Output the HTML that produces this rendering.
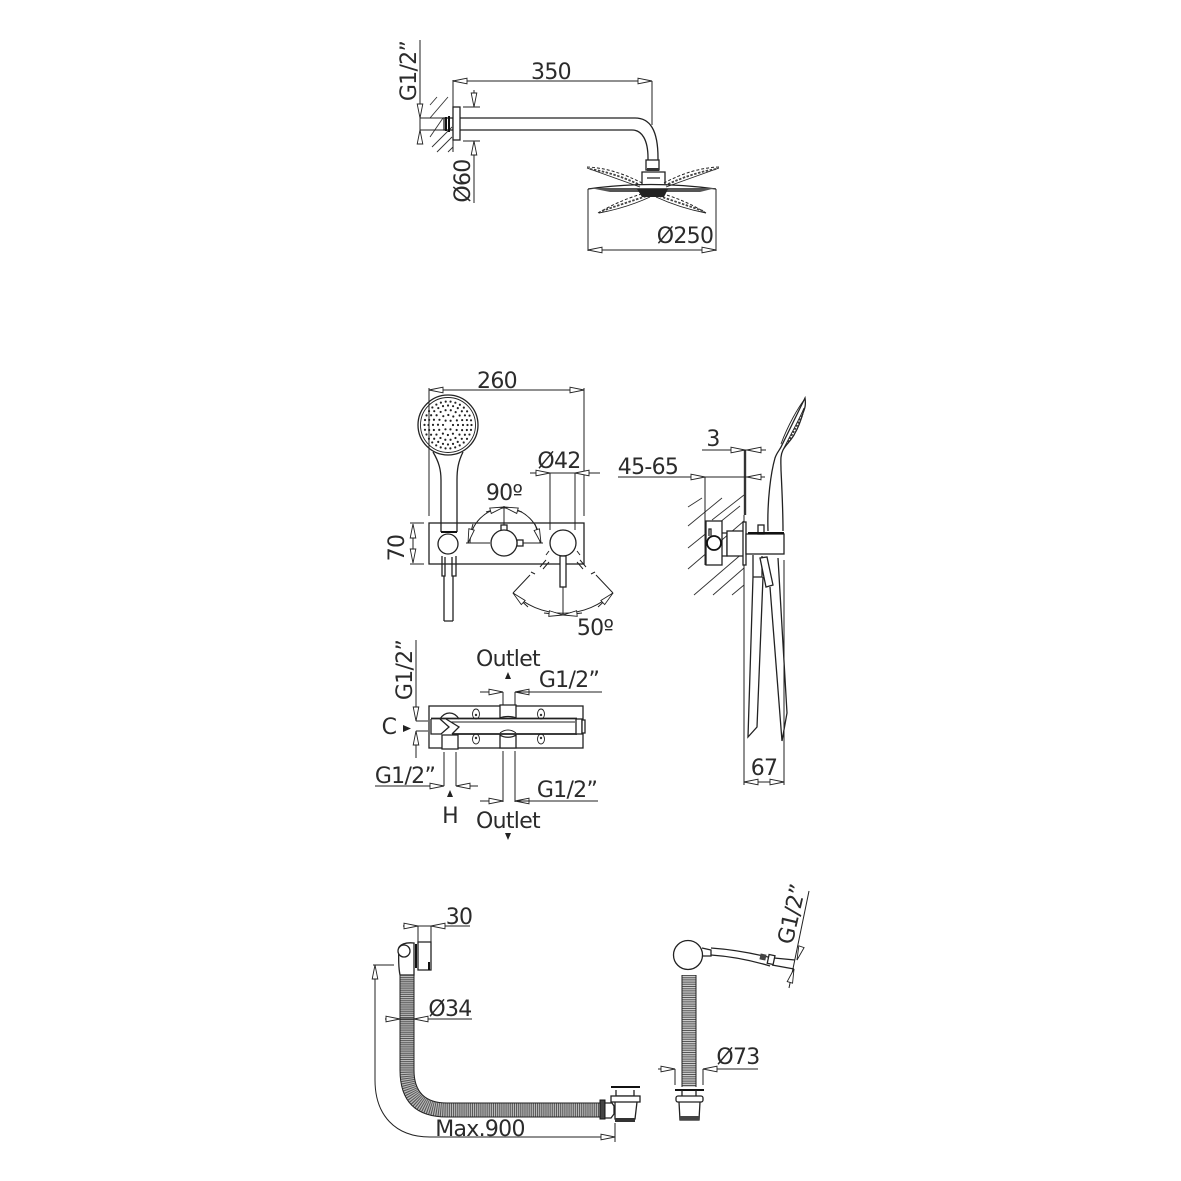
<!DOCTYPE html>
<html>
<head>
<meta charset="utf-8">
<style>
html,body{margin:0;padding:0;background:#fff}
svg{display:block}
text{font-family:"DejaVu Sans","Liberation Sans",sans-serif;font-size:22px;letter-spacing:-.7px;fill:#2b2b2b;text-anchor:middle}
.l{fill:none;stroke:#222;stroke-width:1.3}
.t{fill:none;stroke:#222;stroke-width:.9}
.h{fill:none;stroke:#333;stroke-width:.9}
.k{fill:none;stroke:#111;stroke-width:2}
.w{fill:#fff;stroke:#222;stroke-width:1.3}
.d{fill:none;stroke:#222;stroke-width:1}
.a{fill:none;stroke:#222;stroke-width:1;marker-end:url(#m);marker-start:url(#m)}
.e{fill:none;stroke:#222;stroke-width:1;marker-end:url(#m)}
.dash{fill:none;stroke:#222;stroke-width:1;stroke-dasharray:3 2}
.b{fill:none;stroke:#444;stroke-width:1.800;stroke-dasharray:2.500 1.500}
.dot{fill:#222}
</style>
</head>
<body>
<svg width="1181" height="1181" viewBox="0 0 1181 1181" xmlns="http://www.w3.org/2000/svg">
<defs>
<marker id="m" markerUnits="userSpaceOnUse" markerWidth="18" markerHeight="8" refX="15" refY="4" orient="auto-start-reverse">
<path d="M1 1.2 L15 4 L1 6.800 Z" fill="#fff" stroke="#222" stroke-width=".9"/>
</marker>
</defs>

<!-- TOP: shower arm -->
<path class="h" d="M430 105L437 97M430 118L448 97M430 137L443 118M432 147L452 127M437 152L452 137M448 152L453 147"/>
<path class="d" d="M453 80V152"/>
<path class="a" d="M453 81H652"/>
<path class="d" d="M652 81V125"/>
<text x="551" y="79">350</text>
<path class="d" d="M420 40V143M420 118H445M420 130H445"/>
<path class="e" d="M420 104V118"/>
<path class="e" d="M420 143V130"/>
<text transform="translate(416 71) rotate(-90)">G1/2”</text>
<rect class="l" x="444" y="118" width="9" height="12"/>
<path class="k" d="M446 117V131M449 116V132"/>
<rect class="w" x="453" y="107" width="7" height="33"/>
<path class="l" d="M460 118H635C650 118 658 130 658 158V160M460 130H632C642 130 648 140 648 158V160"/>
<path class="d" d="M463 107H480M463 141H480M474 90V107M474 141V203"/>
<path class="e" d="M474 93V107"/>
<path class="e" d="M474 155V141"/>
<text transform="translate(470 181) rotate(-90)">Ø60</text>
<!-- head -->
<rect class="w" x="646" y="160" width="13" height="10"/>
<path class="l" d="M642 184V172H665V184M647 178H660"/>
<rect x="647" y="168" width="12" height="3" fill="#333"/>
<path class="dash" d="M587 167Q613 168 642 183M719 167Q692 168 664 183M598 213Q620 200 645 193M706 213Q685 200 660 193"/>
<path class="t" d="M587 168Q612 177 640 187M719 168Q694 177 666 187M599 213Q626 208 650 197M706 213Q680 208 656 197"/>
<path class="b" d="M590 169Q615 173 640 185M716 169Q692 173 666 185M602 211Q625 203 650 195M703 211Q680 203 656 195"/>
<path class="l" d="M588 189Q650 180 716 189"/>
<path d="M590 188H716L700 192H610Z" fill="#555"/>
<path d="M637 189H668L664 197H642Z" fill="#222"/>
<path class="d" d="M588 189V251M716 189V251"/>
<path class="a" d="M588 250H716"/>
<text x="685" y="243">Ø250</text>

<!-- MIDDLE: front -->
<path class="a" d="M429 390H584"/>
<path class="d" d="M429 388V516M584 388V516"/>
<text x="497" y="388">260</text>
<rect class="l" x="429" y="523" width="155" height="41"/>
<!-- hand shower head -->
<circle class="l" cx="448" cy="425" r="30"/>
<circle class="t" cx="448" cy="425" r="27.500"/>
<g fill="none" stroke="#222" stroke-width="2.200" stroke-linecap="round">
<circle cx="448" cy="425" r="5" stroke-dasharray="0 5.230"/>
<circle cx="448" cy="425" r="10" stroke-dasharray="0 5.240"/>
<circle cx="448" cy="425" r="15" stroke-dasharray="0 5.240"/>
<circle cx="448" cy="425" r="19.500" stroke-dasharray="0 5.100"/>
<circle cx="448" cy="425" r="23.500" stroke-dasharray="0 4.920"/>
</g>
<path class="l" d="M433 452C439 462 441 470 441 480V532M463 452C458 462 457 470 457 480V532"/>
<path class="k" d="M441 532H457"/>
<circle class="w" cx="448" cy="544" r="10"/>
<path class="l" d="M442 556V576H445V557M456 556V576H452V557M444 576V621M453 576V621M444 621H453"/>
<!-- temp valve -->
<path class="d" d="M470 543A35 35 0 0 1 540 543M466 543H490M518 543H543M504 506V531"/>
<path class="e" d="M473 524L468 543"/>
<path class="e" d="M486 512L504 507"/>
<path class="e" d="M522 512L504 507"/>
<path class="e" d="M535 524L541 543"/>
<rect class="w" x="501" y="525" width="6" height="6"/>
<rect class="w" x="517" y="540" width="6" height="6"/>
<circle class="w" cx="504" cy="543" r="13"/>
<text x="504" y="500">90º</text>
<!-- lever valve -->
<path class="d" d="M550 473V530M575 473V530"/>
<path class="d" d="M530 473H600"/>
<path class="e" d="M530 473H550"/>
<path class="e" d="M600 473H575"/>
<text x="559" y="468">Ø42</text>
<circle class="w" cx="563" cy="543" r="13"/>
<rect class="w" x="560" y="556" width="6" height="31"/>
<path class="d" d="M549 551L546 555M577 551L580 555M540 567L546 560M543 569L549 562M586 567L580 560M583 569L577 562M531 572L535 574M595 572L591 574M530 575L513 593M596 575L613 593M563 587V615"/>
<path class="d" d="M513 593A72 72 0 0 0 613 593"/>
<path class="e" d="M528 607L513 593"/>
<path class="e" d="M544 613L563 615"/>
<path class="e" d="M582 613L563 615"/>
<path class="e" d="M598 607L613 593"/>
<text x="595" y="635">50º</text>
<path class="d" d="M410 523H424M410 564H424"/>
<path class="a" d="M413 524V563"/>
<text transform="translate(404 548) rotate(-90)">70</text>

<!-- MIDDLE: side -->
<path class="h" d="M688 507L702 498M688 526L722 498M688 548L740 506M712 520L744 495M688 569L744 521M694 595L744 552M713 595L744 568M732 595L744 585"/>
<path d="M745 450V515" stroke="#333" stroke-width="2.400" fill="none"/>
<path class="d" d="M618 477H765M702 450H766M705 477V565M744 515V785M784 560V785"/>
<path class="e" d="M726 450H745"/>
<path class="e" d="M765 450H747"/>
<path class="e" d="M686 477H705"/>
<path class="e" d="M765 477H747"/>
<text x="713" y="446">3</text>
<text x="648" y="474">45-65</text>
<rect class="w" x="706" y="521" width="16" height="44"/>
<circle cx="714" cy="543" r="7" fill="#fff" stroke="#111" stroke-width="1.800"/>
<path class="l" d="M709 536V529H711V536M722 533H727V556H722"/>
<rect class="w" x="727" y="531" width="17" height="25"/>
<rect class="w" x="743" y="522" width="3" height="43"/>
<rect class="w" x="746" y="534" width="38" height="20"/>
<rect class="w" x="758" y="525" width="6" height="9"/>
<path class="k" d="M748 533H784"/>
<path class="l" d="M768 531C767 500 771 472 775 458C777 452 780 450 782 445L805 398C806 405 805 408 803 413C801 420 798 428 795 433C792 440 786 444 783 450C780 456 781 462 781 470C782 490 783 510 783 531"/>
<path class="t" d="M781 444C788 425 798 408 804 400M784 448C792 432 800 418 804 408"/>
<path d="M788 442L803 414" stroke="#333" stroke-width="1.800" stroke-dasharray="2 1.500" fill="none"/>
<path class="l" d="M753 555V577H762V556M753 577L748 737L757 727L763 577"/>
<path class="w" d="M760 558L767 557L773 585L766 587Z"/>
<path class="l" d="M770 587L782 741L787 713L778 558"/>

<text x="764" y="775">67</text>
<path class="a" d="M744 782H784"/>

<!-- LOWER VALVE -->
<rect class="l" x="429" y="706" width="154" height="42"/>
<path d="M431 718.500H577M452 734H577" fill="none" stroke="#222" stroke-width="1.700"/>
<path class="l" d="M431 719V734H441L449 727L440 719M446 719L459 727L452 734"/>
<path class="t" d="M451 722H575"/>
<rect class="w" x="576" y="719" width="6" height="15"/>
<rect class="w" x="582" y="720" width="3" height="13"/>
<path class="w" d="M442 735V749H458V735Z"/>
<path class="l" d="M440 719C445 711 454 711 459 719"/>
<path class="w" d="M500 705H516V718C512 716 504 716 500 718Z"/>
<path class="w" d="M500 748H516V735C512 738 504 738 500 735Z"/>
<path class="t" d="M500 733C505 729 511 729 516 733"/>
<ellipse class="t" cx="476" cy="714" rx="3.500" ry="5"/>
<ellipse class="t" cx="476" cy="739" rx="3.500" ry="5"/>
<ellipse class="t" cx="541" cy="714" rx="3.500" ry="5"/>
<ellipse class="t" cx="541" cy="739" rx="3.500" ry="5"/>
<circle cx="476" cy="715" r="1.200" fill="#333"/>
<circle cx="476" cy="738" r="1.200" fill="#333"/>
<circle cx="541" cy="715" r="1.200" fill="#333"/>
<circle cx="541" cy="738" r="1.200" fill="#333"/>
<!-- lower dims -->
<path class="d" d="M503 692V705M515 692V705"/>
<path class="e" d="M480 692H503"/>
<path class="e" d="M540 692H515"/>
<path class="d" d="M515 692H602"/>
<text x="569" y="687">G1/2”</text>
<text x="508" y="666">Outlet</text>
<path class="dot" d="M508 672L511 679H505Z"/>
<path class="d" d="M503 751V802M515 751V802"/>
<path class="e" d="M480 801H503"/>
<path class="e" d="M535 801H515"/>
<path class="d" d="M515 801H598"/>
<text x="567" y="797">G1/2”</text>
<text x="508" y="828">Outlet</text>
<path class="dot" d="M505 833H511L508 840Z"/>
<path class="d" d="M444 752V786M456 752V786M375 786H444M456 786H478"/>
<path class="e" d="M424 786H444"/>
<path class="e" d="M478 786H456"/>
<text x="405" y="783">G1/2”</text>
<text x="450" y="823">H</text>
<path class="dot" d="M450 790L453 797H447Z"/>
<text x="389" y="734">C</text>
<path class="dot" d="M403 725L411 728.500L403 732Z"/>
<path class="d" d="M416 640V721M416 721H428M416 731H428M416 731V758"/>
<path class="e" d="M416 702V721"/>
<path class="e" d="M416 750V731"/>
<text transform="translate(412 670) rotate(-90)">G1/2”</text>

<!-- BOTTOM LEFT -->
<path class="d" d="M403 926H470M418 926V942M431 926V942"/>
<path class="e" d="M403 926H418"/>
<path class="e" d="M445 926H431"/>
<text x="459" y="924">30</text>
<path class="l" d="M418 942H431V970H418Z"/>
<path class="k" d="M416 944V968"/>
<path class="k" d="M429 962V970"/>
<path class="l" d="M399 947Q403 942 414 943V966L414 975H400Q398 965 399 947"/>
<circle class="w" cx="404" cy="951" r="6"/>
<path d="M407 975V1070Q407 1110 447 1110H600" fill="none" stroke="#bbb" stroke-width="14"/>
<path d="M407 975V1070Q407 1110 447 1110H600" fill="none" stroke="#555" stroke-width="14" stroke-dasharray="1 1.100"/>
<path d="M400 975V1070Q400 1117 447 1117H600M414 975V1070Q414 1103 447 1103H600" fill="none" stroke="#222" stroke-width="1"/>
<path class="d" d="M385 1019H472"/>
<path class="e" d="M385 1019H400"/>
<path class="e" d="M428 1019H414"/>
<text x="450" y="1016">Ø34</text>
<path class="d" d="M373 965H394"/>
<path class="d" d="M375 965V1080C375 1115 395 1137 430 1137H615M615 1123V1142"/>
<path class="e" d="M375 980V965"/>
<path class="e" d="M600 1137H615"/>
<text x="480" y="1136">Max.900</text>
<rect x="600" y="1100" width="5" height="19" fill="#444" stroke="#111"/>
<path class="l" d="M605 1103H612L614 1106V1114L611 1118H605"/>
<path class="k" d="M611 1087H640"/>
<path class="l" d="M616 1090V1096H634V1090"/>
<rect class="w" x="611" y="1096" width="29" height="6"/>
<path class="l" d="M615 1102V1119H635L637 1102"/>
<rect x="615" y="1118" width="20" height="4" fill="#333"/>

<!-- BOTTOM RIGHT -->
<circle class="w" cx="688" cy="955" r="14.500"/>
<path d="M689 975V1087" fill="none" stroke="#ccc" stroke-width="14"/>
<path d="M689 975V1087" fill="none" stroke="#555" stroke-width="14" stroke-dasharray="1 1.200"/>
<path d="M682 975V1087M696 975V1087" fill="none" stroke="#222" stroke-width="1"/>
<path class="l" d="M702 948L711 950V956L702 956"/>
<path class="l" d="M711 948Q740 950 772 958M711 955Q740 957 770 966"/>
<rect x="760" y="954" width="6" height="6" transform="rotate(12 763 957)" fill="#444"/>
<rect class="w" x="768" y="955" width="6" height="9" transform="rotate(12 771 960)"/>
<path class="l" d="M774 958L795 960M772 965L794 969"/>
<path class="d" d="M809 891L789 988"/>
<path class="e" d="M801 948L797 960"/>
<path class="e" d="M790 982L794 969"/>
<text transform="translate(799 916) rotate(-77)">G1/2”</text>
<path class="k" d="M675 1090H704"/>
<path class="l" d="M682 1090V1096M696 1090V1096"/>
<rect class="w" x="676" y="1096" width="27" height="6" rx="2"/>
<path class="l" d="M679 1102L680 1120H699L700 1102"/>
<rect x="680" y="1116" width="19" height="4" fill="#444"/>
<path class="d" d="M675 1069V1085M703 1069V1085M658 1069H675M703 1069H758"/>
<path class="e" d="M660 1069H675"/>
<path class="e" d="M718 1069H703"/>
<text x="738" y="1064">Ø73</text>
</svg>
</body>
</html>
